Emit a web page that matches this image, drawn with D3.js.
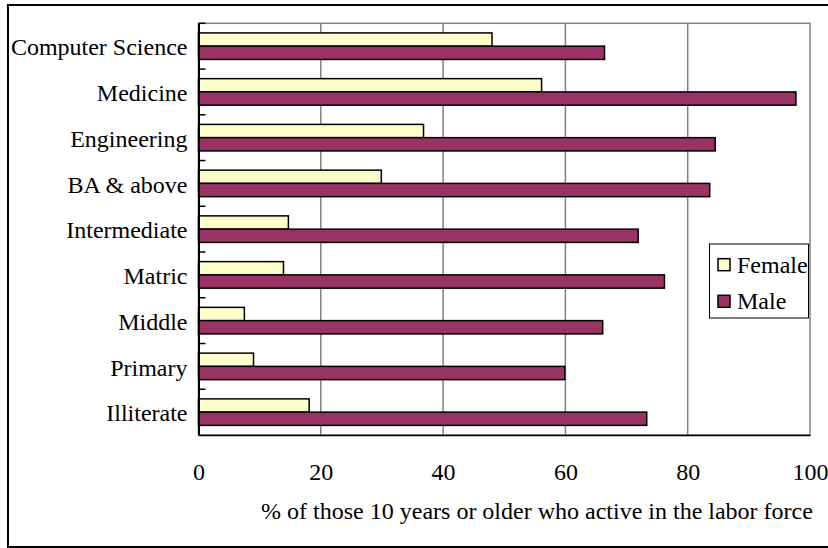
<!DOCTYPE html>
<html>
<head>
<meta charset="utf-8">
<script src="https://cdn.jsdelivr.net/npm/d3@7"></script>
<style>
  html, body { margin: 0; padding: 0; background: #fff; }
  svg { display: block; }
  text { font-family: "Liberation Serif", "Times New Roman", serif; fill: #000; }
</style>
</head>
<body>
<svg id="chart" width="828" height="548"></svg>
<script>
// Labor-force participation by education level, female vs male
const categories = ["Computer Science", "Medicine", "Engineering", "BA & above",
  "Intermediate", "Matric", "Middle", "Primary", "Illiterate"];
const seriesNames = ["Female", "Male"];
const femaleValues = [48.0, 56.1, 36.8, 29.9, 14.7, 13.9, 7.5, 9.0, 18.1];
const maleValues = [66.4, 97.7, 84.5, 83.6, 71.9, 76.2, 66.1, 59.9, 73.3];
const xTicks = [0, 20, 40, 60, 80, 100];
const xTitle = "% of those 10 years or older who active in the labor force";

const colors = { Female: "#FFFFCC", Male: "#993366" };
const valuesBySeries = { Female: femaleValues, Male: maleValues };

const svg = d3.select("#chart");
const plot = { left: 198.5, right: 810, top: 23.3, bottom: 435 };
const fontSize = 24;

// Outer frame
svg.append("rect")
  .attr("x", 8).attr("y", 5)
  .attr("width", 840).attr("height", 542)
  .attr("fill", "#fff").attr("stroke", "#000").attr("stroke-width", 2);

const x = d3.scaleLinear().domain([0, 100]).range([plot.left, plot.right]);
const y0 = d3.scaleBand().domain(categories).range([plot.top, plot.bottom]);
const groupH = y0.bandwidth() * 0.58;
const groupOff = (y0.bandwidth() - groupH) / 2;
const y1 = d3.scaleBand().domain(seriesNames).range([0, groupH]);

// Plot border (gray)
svg.append("rect")
  .attr("x", plot.left).attr("y", plot.top)
  .attr("width", plot.right - plot.left).attr("height", plot.bottom - plot.top)
  .attr("fill", "#fff").attr("stroke", "#808080").attr("stroke-width", 1.5);

// Vertical gridlines
svg.append("g")
  .selectAll("line")
  .data(xTicks.filter(t => t > 0 && t < 100))
  .join("line")
  .attr("x1", d => x(d)).attr("x2", d => x(d))
  .attr("y1", plot.top).attr("y2", plot.bottom)
  .attr("stroke", "#808080").attr("stroke-width", 1.5);

// Bars
const rows = categories.map((c, i) => ({ cat: c, i }));
const groups = svg.append("g").selectAll("g")
  .data(rows)
  .join("g")
  .attr("transform", d => `translate(0,${y0(d.cat) + groupOff})`);

groups.selectAll("rect")
  .data(d => seriesNames.map(s => ({ s, v: valuesBySeries[s][d.i] })))
  .join("rect")
  .attr("x", x(0))
  .attr("y", d => y1(d.s))
  .attr("width", d => x(d.v) - x(0))
  .attr("height", y1.bandwidth())
  .attr("fill", d => colors[d.s])
  .attr("stroke", "#000")
  .attr("stroke-width", 1.5);

// Category axis with inside tick marks between categories
svg.append("g")
  .selectAll("line")
  .data(categories)
  .join("line")
  .attr("x1", plot.left).attr("x2", plot.left + 7)
  .attr("y1", d => y0(d)).attr("y2", d => y0(d))
  .attr("stroke", "#000").attr("stroke-width", 1.5);

svg.append("g")
  .attr("transform", `translate(${plot.left},0)`)
  .call(d3.axisLeft(y0).tickSize(0).tickPadding(11))
  .call(g => g.select(".domain").attr("stroke", "#000").attr("stroke-width", 2))
  .call(g => g.selectAll("text")
    .attr("font-size", fontSize)
    .attr("dy", "0.38em"));

// Value axis
svg.append("g")
  .attr("transform", `translate(0,${plot.bottom})`)
  .call(d3.axisBottom(x).tickValues(xTicks).tickSize(0).tickPadding(27.5).tickFormat(d3.format("d")))
  .call(g => g.select(".domain").attr("stroke", "#000").attr("stroke-width", 1.5))
  .call(g => g.selectAll("text")
    .attr("font-size", fontSize));

// Axis title
svg.append("text")
  .attr("x", 537).attr("y", 519.3)
  .attr("text-anchor", "middle")
  .attr("font-size", fontSize)
  .text(xTitle);

// Legend
const legend = svg.append("g");
legend.append("rect")
  .attr("x", 709.5).attr("y", 244)
  .attr("width", 99).attr("height", 74)
  .attr("fill", "#fff").attr("stroke", "#000").attr("stroke-width", 1);
const legendRows = [{ s: "Female", y: 272.7 }, { s: "Male", y: 309.3 }];
legend.selectAll("rect.sw")
  .data(legendRows)
  .join("rect")
  .attr("class", "sw")
  .attr("x", 718).attr("y", d => d.y - 14)
  .attr("width", 12).attr("height", 12)
  .attr("fill", d => colors[d.s])
  .attr("stroke", "#000").attr("stroke-width", 1.5);
legend.selectAll("text")
  .data(legendRows)
  .join("text")
  .attr("x", 737).attr("y", d => d.y)
  .attr("font-size", fontSize)
  .text(d => d.s);
</script>
</body>
</html>
